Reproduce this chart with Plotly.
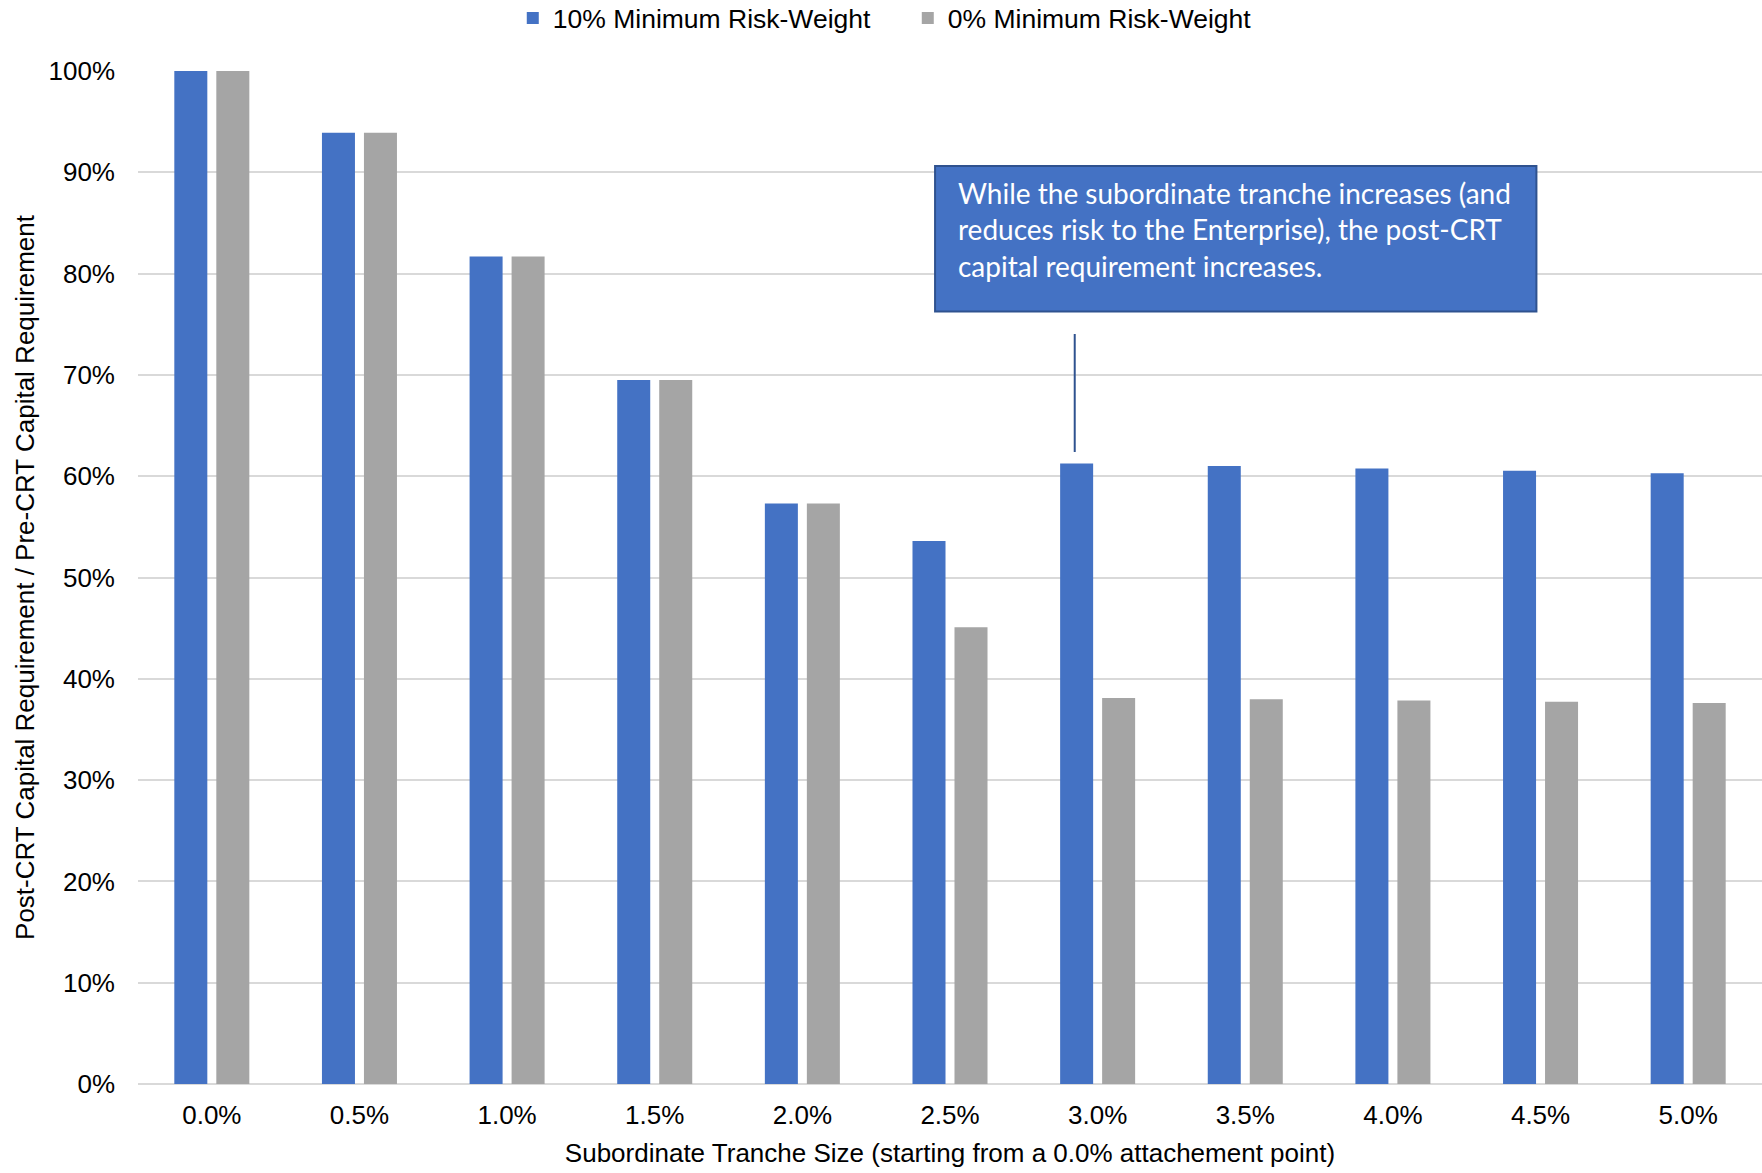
import plotly.graph_objects as go

categories = ["0.0%", "0.5%", "1.0%", "1.5%", "2.0%", "2.5%", "3.0%", "3.5%", "4.0%", "4.5%", "5.0%"]
min_rw_10 = [1.000, 0.939, 0.817, 0.695, 0.573, 0.536, 0.6125, 0.610, 0.6076, 0.6053, 0.603]
min_rw_0 = [1.000, 0.939, 0.817, 0.695, 0.573, 0.451, 0.381, 0.3797, 0.3787, 0.3773, 0.376]

series_names = ["10% Minimum Risk-Weight", "0% Minimum Risk-Weight"]
y_ticks = [0, 0.1, 0.2, 0.3, 0.4, 0.5, 0.6, 0.7, 0.8, 0.9, 1.0]

callout_text = ("While the subordinate tranche increases (and<br>"
                "reduces risk to the Enterprise), the post-CRT<br>"
                "capital requirement increases.")

BLUE = "#4472C4"
GRAY = "#A5A5A5"
FONT = "Liberation Sans, Arial, sans-serif"

fig = go.Figure()
fig.add_trace(go.Bar(x=categories, y=min_rw_10, name=series_names[0],
                     marker=dict(color=BLUE, line=dict(width=0))))
fig.add_trace(go.Bar(x=categories, y=min_rw_0, name=series_names[1],
                     marker=dict(color=GRAY, line=dict(width=0))))

fig.update_layout(
    width=1762, height=1173,
    margin=dict(l=138, r=0, t=71, b=89, autoexpand=False),
    paper_bgcolor="white", plot_bgcolor="white",
    barmode="group", bargap=0.431, bargroupgap=0.214,
    font=dict(family=FONT, size=26, color="#000000"),
    legend=dict(orientation="h", x=0.474, xanchor="center", y=1.052, yanchor="middle",
                font=dict(size=26.5), itemwidth=30, traceorder="normal",
                entrywidth=350, entrywidthmode="pixels",
                bgcolor="rgba(0,0,0,0)"),
    xaxis=dict(
        showgrid=False, showline=False, zeroline=False,
        ticks="", ticklabelstandoff=13,
        tickfont=dict(size=26),
        title=dict(text="Subordinate Tranche Size (starting from a 0.0% attachement point)",
                   font=dict(size=26), standoff=14),
    ),
    yaxis=dict(
        range=[0, 1.0], tickvals=y_ticks, tickformat=".0%",
        showgrid=True, gridcolor="#D9D9D9", gridwidth=2,
        zeroline=True, zerolinecolor="#D9D9D9", zerolinewidth=2,
        showline=False, ticks="", ticklabelstandoff=22,
        tickfont=dict(size=26),
        title=dict(text="Post-CRT Capital Requirement / Pre-CRT Capital Requirement",
                   font=dict(size=26), standoff=6),
    ),
)

# Callout box
fig.add_shape(type="rect", xref="paper", yref="paper",
              x0=0.4908, x1=0.8611, y0=0.7626, y1=0.9062,
              fillcolor=BLUE, line=dict(color="#2F528F", width=2), layer="above")
fig.add_annotation(xref="paper", yref="paper", x=0.5034, y=0.8435,
                   xanchor="left", yanchor="middle", align="left",
                   text=callout_text, showarrow=False,
                   font=dict(family="Lato, sans-serif", size=28, color="white"))
# Connector line
fig.add_shape(type="line", xref="paper", yref="paper",
              x0=0.5768, x1=0.5768, y0=0.6239, y1=0.7404,
              line=dict(color="#2F528F", width=2), layer="above")

fig.write_html("out.html")
